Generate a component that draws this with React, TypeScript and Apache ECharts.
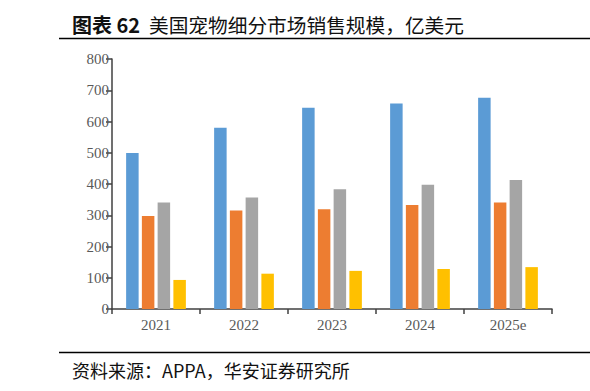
import React, { useEffect, useRef } from "react";
import * as echarts from "echarts";

const categories = ["2021", "2022", "2023", "2024", "2025e"];
const seriesA = [499, 580, 644, 658, 676];
const seriesB = [298, 315, 319, 333, 341];
const seriesC = [341, 357, 383, 398, 413];
const seriesD = [93, 113, 122, 128, 134];
const colors = ["#5B9BD5", "#ED7D31", "#A5A5A5", "#FFC000"];

export default function App() {
  const ref = useRef<HTMLDivElement>(null);
  useEffect(() => {
    if (!ref.current) return;
    const chart = echarts.init(ref.current, null, { renderer: "svg" });
    const mk = (name: string, data: number[], color: string) => ({
      name,
      type: "bar",
      data,
      barWidth: 12.5,
      barGap: "26%",
      itemStyle: { color },
    });
    chart.setOption({
      animation: false,
      backgroundColor: "#ffffff",
      grid: { left: 112, right: 38, top: 59, bottom: 82 },
      xAxis: {
        type: "category",
        data: categories,
        axisLine: { lineStyle: { color: "#404040", width: 1.5 } },
        axisTick: { show: true, length: 5, lineStyle: { color: "#404040", width: 1.5 } },
        axisLabel: {
          color: "#595959",
          fontFamily: "Liberation Serif",
          fontSize: 15,
          margin: 8,
        },
      },
      yAxis: {
        type: "value",
        min: 0,
        max: 800,
        interval: 100,
        splitLine: { show: false },
        axisLine: { show: true, lineStyle: { color: "#404040", width: 1.5 } },
        axisTick: { show: true, length: 6, lineStyle: { color: "#404040", width: 1.5 } },
        axisLabel: {
          color: "#595959",
          fontFamily: "Liberation Serif",
          fontSize: 15,
          margin: 3,
        },
      },
      series: [
        mk("A", seriesA, colors[0]),
        mk("B", seriesB, colors[1]),
        mk("C", seriesC, colors[2]),
        mk("D", seriesD, colors[3]),
      ],
      graphic: [
        {
          type: "text",
          x: 72,
          y: 24,
          style: {
            text: "图表 62",
            verticalAlign: "middle",
            fontFamily: "Noto Sans CJK SC",
            fontWeight: "bold",
            fontSize: 20,
            fill: "#111",
          },
        },
        {
          type: "text",
          x: 149,
          y: 24,
          style: {
            text: "美国宠物细分市场销售规模，亿美元",
            verticalAlign: "middle",
            fontFamily: "Noto Sans CJK SC",
            fontSize: 19.7,
            fill: "#111",
          },
        },
        {
          type: "line",
          shape: { x1: 59, y1: 38.5, x2: 590, y2: 38.5 },
          style: { stroke: "#000", lineWidth: 1.5 },
        },
        {
          type: "line",
          shape: { x1: 59, y1: 352.5, x2: 590, y2: 352.5 },
          style: { stroke: "#000", lineWidth: 1.5 },
        },
        {
          type: "text",
          x: 72,
          y: 370,
          style: {
            text: "资料来源：APPA，华安证券研究所",
            verticalAlign: "middle",
            fontFamily: "Noto Sans CJK SC",
            fontSize: 18,
            fill: "#111",
          },
        },
      ],
    });
    return () => chart.dispose();
  }, []);
  return <div ref={ref} style={{ width: 590, height: 391, position: "absolute", left: 0, top: 0 }} />;
}
